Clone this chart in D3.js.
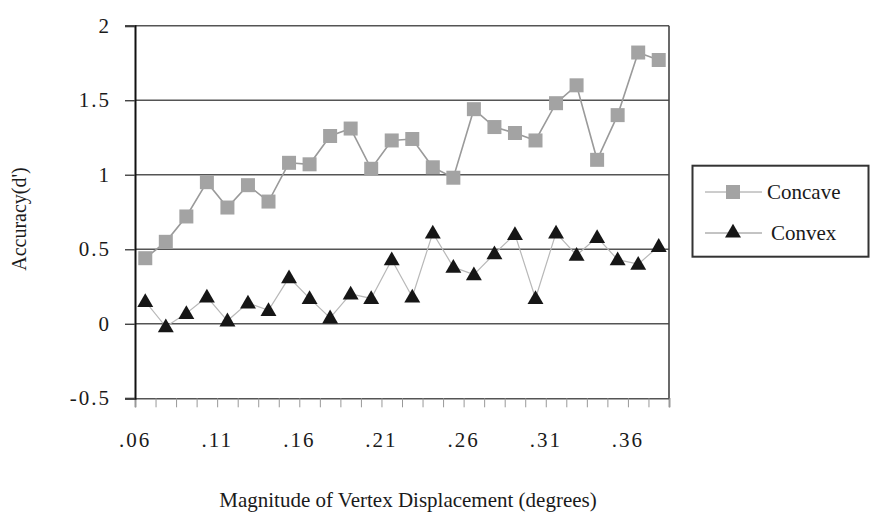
<!DOCTYPE html>
<html>
<head>
<meta charset="utf-8">
<script src="https://cdn.jsdelivr.net/npm/d3@7"></script>
<style>
  html, body { margin: 0; padding: 0; background: #fff; }
  svg { display: block; }
</style>
</head>
<body>
<svg id="chart" width="871" height="516" font-family="Liberation Serif"></svg>
<script>
// ---- data ----
const categories = [1,2,3,4,5,6,7,8,9,10,11,12,13,14,15,16,17,18,19,20,21,22,23,24,25,26];
const concave = [0.44,0.55,0.72,0.95,0.78,0.93,0.82,1.08,1.07,1.26,1.31,1.04,1.23,1.24,1.05,0.98,1.44,1.32,1.28,1.23,1.48,1.60,1.10,1.40,1.82,1.77];
const convex  = [0.15,-0.02,0.07,0.18,0.02,0.14,0.09,0.31,0.17,0.04,0.20,0.17,0.43,0.18,0.61,0.38,0.33,0.47,0.60,0.17,0.61,0.46,0.58,0.43,0.40,0.52];
const xTickLabels = [".06",".11",".16",".21",".26",".31",".36"];
const yTicks = [-0.5, 0, 0.5, 1, 1.5, 2];
const seriesNames = ["Concave", "Convex"];

const FONT = "Liberation Serif";
const TXT = "#1a1a1a";

// ---- layout ----
const svg = d3.select("#chart");
const L = 135, R = 669, T = 25.7, B = 398.3;
const x = d3.scaleLinear().domain([0, categories.length]).range([L, R]);
const y = d3.scaleLinear().domain([-0.5, 2]).range([B, T]);
const cx = i => x(i + 0.5);

// gridlines
svg.append("g").selectAll("line").data(yTicks.filter(v => v > -0.5)).join("line")
  .attr("x1", L).attr("x2", R).attr("y1", d => y(d)).attr("y2", d => y(d))
  .attr("stroke", "#555").attr("stroke-width", 1.6);

// right border
svg.append("line").attr("x1", R).attr("x2", R).attr("y1", T).attr("y2", B)
  .attr("stroke", "#444").attr("stroke-width", 1.6);

// x axis: minor ticks at each category boundary
const tickIdx = d3.range(0, categories.length + 1);
const xAxis = d3.axisBottom(x).tickValues(tickIdx).tickSize(9).tickFormat("");
const gx = svg.append("g").attr("transform", `translate(0,${B})`).call(xAxis);
gx.select(".domain").attr("stroke", "#555").attr("stroke-width", 1.6);
gx.selectAll(".tick line").attr("stroke", "#999").attr("stroke-width", 1);

// x tick labels every 4 categories
svg.append("g").selectAll("text").data(xTickLabels).join("text")
  .attr("x", (d, i) => x(i * 4))
  .attr("y", 447)
  .attr("text-anchor", "middle")
  .attr("font-family", FONT).attr("font-size", 21).attr("letter-spacing", 2)
  .attr("fill", TXT)
  .text(d => d);

// y axis
const yAxis = d3.axisLeft(y).tickValues(yTicks).tickSize(10).tickPadding(14)
  .tickFormat(d => String(d));
const gy = svg.append("g").attr("transform", `translate(${L},0)`).call(yAxis);
gy.attr("font-family", FONT).attr("font-size", 21);
gy.select(".domain").attr("stroke", "#111").attr("stroke-width", 2);
gy.selectAll(".tick line").attr("stroke", "#444").attr("stroke-width", 1.4);
gy.selectAll(".tick text")
  .attr("font-family", FONT).attr("font-size", 21).attr("letter-spacing", 2)
  .attr("fill", TXT).attr("dy", "0.3em");

// axis titles
svg.append("text").attr("x", 408).attr("y", 507).attr("text-anchor", "middle")
  .attr("font-family", FONT).attr("font-size", 21).attr("fill", TXT)
  .text("Magnitude of Vertex Displacement (degrees)");
svg.append("text").attr("transform", "translate(26,219) rotate(-90)").attr("text-anchor", "middle")
  .attr("font-family", FONT).attr("font-size", 20).attr("fill", TXT)
  .text("Accuracy(d')");

// series lines
const line = d3.line().x((d, i) => cx(i)).y(d => y(d));
svg.append("path").datum(concave).attr("d", line).attr("fill", "none")
  .attr("stroke", "#9a9a9a").attr("stroke-width", 1.6);
svg.append("path").datum(convex).attr("d", line).attr("fill", "none")
  .attr("stroke", "#b8b8b8").attr("stroke-width", 1.2);

// markers
const sq = d3.symbol().type(d3.symbolSquare).size(196);
const tri = d3.symbol().type(d3.symbolTriangle).size(110);
svg.append("g").selectAll("path").data(concave).join("path")
  .attr("d", sq).attr("transform", (d, i) => `translate(${cx(i)},${y(d)})`)
  .attr("fill", "#a3a3a3");
svg.append("g").selectAll("path").data(convex).join("path")
  .attr("d", tri).attr("transform", (d, i) => `translate(${cx(i)},${y(d) + 1})`)
  .attr("fill", "#161616");

// legend
const lg = svg.append("g");
lg.append("rect").attr("x", 692.5).attr("y", 165.7).attr("width", 176).attr("height", 91)
  .attr("fill", "#fff").attr("stroke", "#333").attr("stroke-width", 2);
const rows = [{y: 192, name: seriesNames[0], color: "#9a9a9a", sym: sq, fill: "#a3a3a3", tx: 767},
              {y: 233, name: seriesNames[1], color: "#888", sym: tri, fill: "#161616", tx: 771}];
rows.forEach(r => {
  lg.append("line").attr("x1", 705).attr("x2", 762).attr("y1", r.y).attr("y2", r.y)
    .attr("stroke", r.color).attr("stroke-width", 1);
  lg.append("path").attr("d", r.sym).attr("transform", `translate(733,${r.y})`).attr("fill", r.fill);
  lg.append("text").attr("x", r.tx).attr("y", r.y + 6.5)
    .attr("font-family", FONT).attr("font-size", 21).attr("fill", TXT)
    .text(r.name);
});
</script>
</body>
</html>
